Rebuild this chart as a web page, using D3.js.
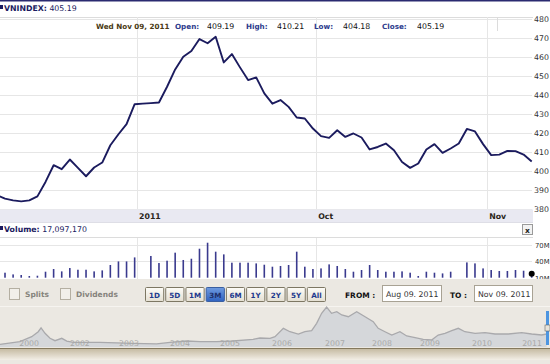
<!DOCTYPE html>
<html><head><meta charset="utf-8">
<script src="https://cdn.jsdelivr.net/npm/d3@7"></script>
<style>body{margin:0;background:#fff;overflow:hidden}svg{display:block}</style>
</head><body><svg id="c" width="550" height="364"></svg>
<script>
// ---- data ----
const symbol = "VNINDEX";
const lastClose = "405.19";
const infoDate = "Wed Nov 09, 2011";
const infoLabels = ["Open:", "High:", "Low:", "Close:"];
const infoValues = ["409.19", "410.21", "404.18", "405.19"];
const volumeTitle = "17,097,170";
// daily closes, index 0..66 (first point partly outside the plot)
const priceValues = [387.4, 385.6, 384.7, 384.2, 384.7, 386.8, 394.4, 403.2, 401.1, 406.2,
  401.8, 397.4, 402.0, 404.6, 413.7, 419.5, 424.8, 435.3, 435.6, 435.9,
  436.2, 444.5, 453.6, 460.3, 463.3, 469.6, 467.4, 470.8, 457.3, 461.7,
  454.7, 448.0, 449.4, 441.0, 435.6, 437.5, 433.9, 428.3, 427.8, 422.5,
  418.5, 417.6, 421.6, 418.1, 419.9, 417.8, 411.5, 412.8, 414.6, 411.1,
  404.9, 401.8, 404.1, 411.5, 414.3, 409.7, 412.0, 414.6, 422.3, 421.0,
  414.3, 408.5, 408.8, 410.7, 410.6, 408.8, 405.19];
// daily volume in millions, same index (first day has no visible bar)
const volumeValues = [null, 19.1, 16.0, 14.9, 13.1, 13.6, 20.9, 25.8, 21.5, 27.6, 24.5,
  24.5, 21.5, 23.3, 33.1, 39.6, 39.6, 46.9, 9, 49.5, 36.7,
  40.9, 55.5, 42.2, 44.5, 62.7, 73.6, 57.3, 52.4, 37.3, 37.3,
  37.3, 36.0, 33.6, 30.0,
  31.3, 33.1, 57.3, 30.0, 25.8, 26.9, 34.2, 31.3, 25.8, 20.9,
  24.0, 33.1, 24.0, 20.9, 20.9, 21.5, 19.1, 13.1, 20.9, 19.1,
  17.8, 20.9, 9, 37.8, 36.0, 26.9, 24.0, 22.2, 22.2, 24.0, 22.7, 17.1];
const xTickLabels = ["2011", "Oct", "Nov"];
const xTickIndex = [17.3, 39.4, 60.5];
const priceTicks = [380, 390, 400, 410, 420, 430, 440, 450, 460, 470, 480];
const volumeTicks = [10, 40, 70];
const volumeTickLabels = ["10M", "40M", "70M"];
const rangeButtons = ["1D", "5D", "1M", "3M", "6M", "1Y", "2Y", "5Y", "All"];
const activeButton = "3M";
const fromDate = "Aug 09. 2011";
const toDate = "Nov 09. 2011";
// navigator: session index and index level
const navSessions = [0, 100, 159, 192, 206, 226, 251, 276, 310, 335, 368, 502, 667, 786, 853, 937, 1004, 1087, 1169, 1270, 1305, 1355, 1380, 1422, 1455, 1497, 1530, 1564, 1589, 1614, 1639, 1664, 1690, 1715, 1748, 1790, 1832, 1873, 1898, 1932, 1966, 2007, 2041, 2083, 2124, 2166, 2199, 2233, 2267, 2300, 2333, 2384, 2434, 2484, 2551, 2618, 2668, 2718, 2743];
const navValues = [79, 155, 301, 447, 560, 400, 254, 184, 254, 175, 137, 137, 108, 90, 137, 175, 155, 155, 175, 225, 263, 254, 301, 547, 447, 380, 447, 477, 693, 985, 1170, 985, 1032, 936, 886, 1032, 886, 740, 547, 447, 351, 447, 322, 272, 225, 205, 351, 401, 477, 547, 447, 401, 418, 380, 380, 418, 380, 351, 380];
const navYearLabels = ["2000", "2002", "2003", "2004", "2005", "2006", "2007", "2008", "2009", "2010", "2011"];
const navYearSessions = [146, 401, 647, 903, 1154, 1415, 1681, 1917, 2158, 2419, 2670];

// ---- drawing ----
const svg = d3.select("#c");
const F = "'DejaVu Sans', Verdana, sans-serif";
const plotL = 0, plotR = 532, plotT = 17, plotB = 209.3;

const x = d3.scaleLinear().domain([0, priceValues.length - 1]).range([-3.1, 531.7]);
const yP = d3.scaleLinear().domain([380, 480]).range([209.3, 19.3]);
const yV = d3.scaleLinear().domain([10, 70]).range([277.7, 244.7]);

const defs = svg.append("defs");
defs.append("clipPath").attr("id", "cp").append("rect")
  .attr("x", plotL).attr("y", plotT).attr("width", plotR - plotL + 2).attr("height", plotB - plotT);
defs.append("clipPath").attr("id", "cv").append("rect")
  .attr("x", 0).attr("y", 238).attr("width", 540).attr("height", 41);
const g1 = defs.append("linearGradient").attr("id", "btn").attr("x1", 0).attr("x2", 0).attr("y1", 0).attr("y2", 1);
g1.append("stop").attr("offset", 0).attr("stop-color", "#fdfcf8");
g1.append("stop").attr("offset", 1).attr("stop-color", "#e4dfd2");
const g2 = defs.append("linearGradient").attr("id", "btnA").attr("x1", 0).attr("x2", 0).attr("y1", 0).attr("y2", 1);
g2.append("stop").attr("offset", 0).attr("stop-color", "#6f9be0");
g2.append("stop").attr("offset", 1).attr("stop-color", "#2f62c0");
const g3 = defs.append("linearGradient").attr("id", "scr").attr("x1", 0).attr("x2", 0).attr("y1", 0).attr("y2", 1);
g3.append("stop").attr("offset", 0).attr("stop-color", "#c4b9a0");
g3.append("stop").attr("offset", 1).attr("stop-color", "#f2eee6");

// top border
svg.append("rect").attr("x", 0).attr("y", 0).attr("width", 550).attr("height", 1.5).attr("fill", "#2a2a70");
// title
svg.append("rect").attr("x", 0).attr("y", 5).attr("width", 3).attr("height", 4).attr("fill", "#1a1a60");
const t1 = svg.append("text").attr("x", 4).attr("y", 10.5).attr("font-family", F).attr("font-size", 7.8).attr("fill", "#1a1a60");
t1.append("tspan").attr("font-weight", "bold").text(symbol + ":");
t1.append("tspan").text(" " + lastClose);

svg.append("line").attr("x1", 0).attr("x2", 533).attr("y1", 17.5).attr("y2", 17.5).attr("stroke", "#dcdcdc");

// gridlines
svg.append("g").selectAll("line").data(priceTicks).join("line")
  .attr("x1", plotL).attr("x2", plotR).attr("y1", d => Math.round(yP(d)) + 0.5).attr("y2", d => Math.round(yP(d)) + 0.5)
  .attr("stroke", "#e6e6e6");
svg.append("g").selectAll("line").data(xTickIndex).join("line")
  .attr("x1", d => Math.round(x(d)) + 0.5).attr("x2", d => Math.round(x(d)) + 0.5)
  .attr("y1", plotT).attr("y2", plotB).attr("stroke", "#e6e6e6");

// info row
svg.append("line").attr("x1", 497.5).attr("x2", 497.5).attr("y1", 17).attr("y2", 31).attr("stroke", "#dcdcdc");
svg.append("text").attr("x", 96).attr("y", 29).attr("font-family", F).attr("font-size", 7.2)
  .attr("font-weight", "bold").attr("fill", "#4a3a14").text(infoDate);
const labX = [175, 246, 314, 382], valX = [207, 277, 343, 417];
infoLabels.forEach((l, i) => {
  svg.append("text").attr("x", labX[i]).attr("y", 29).attr("font-family", F).attr("font-size", 7.2)
    .attr("font-weight", "bold").attr("fill", "#2c3a8c").text(l);
  svg.append("text").attr("x", valX[i]).attr("y", 29).attr("font-family", F).attr("font-size", 7.8)
    .attr("fill", "#111").text(infoValues[i]);
});

// price axis labels
svg.append("g").selectAll("text").data(priceTicks).join("text")
  .attr("x", 534).attr("y", d => yP(d) + 3).attr("font-family", F).attr("font-size", 7.8)
  .attr("fill", "#333").text(d => d);

// price line
svg.append("path").datum(priceValues).attr("clip-path", "url(#cp)")
  .attr("d", d3.line().x((d, i) => x(i)).y(d => yP(d)))
  .attr("fill", "none").attr("stroke", "#1b1b5e").attr("stroke-width", 1.9).attr("stroke-linejoin", "round");

// x axis band
svg.append("rect").attr("x", 0).attr("y", 209.5).attr("width", 533).attr("height", 12.5).attr("fill", "#e9e9f2");
svg.append("line").attr("x1", 0).attr("x2", 533).attr("y1", 222.5).attr("y2", 222.5).attr("stroke", "#dedee6");
svg.append("g").selectAll("text").data(xTickIndex).join("text")
  .attr("x", d => x(d) + 2).attr("y", 219).attr("font-family", F).attr("font-size", 7.8)
  .attr("font-weight", "bold").attr("fill", "#2a2418").text((d, i) => xTickLabels[i]);

// volume header
svg.append("rect").attr("x", 0).attr("y", 226).attr("width", 3).attr("height", 4).attr("fill", "#1a1a60");
const t2 = svg.append("text").attr("x", 4).attr("y", 231.5).attr("font-family", F).attr("font-size", 7.8).attr("fill", "#1a1a60");
t2.append("tspan").attr("font-weight", "bold").text("Volume:");
t2.append("tspan").text(" " + volumeTitle);
// close button
svg.append("rect").attr("x", 522.5).attr("y", 224.5).attr("width", 10).attr("height", 10)
  .attr("fill", "#f2f2f2").attr("stroke", "#9a9a9a");
svg.append("text").attr("x", 527.5).attr("y", 232.5).attr("text-anchor", "middle").attr("font-family", F)
  .attr("font-size", 7.5).attr("font-weight", "bold").attr("fill", "#222").text("x");

// volume panel
svg.append("line").attr("x1", 0).attr("x2", 533).attr("y1", 237.5).attr("y2", 237.5).attr("stroke", "#dcdcdc");
svg.append("g").selectAll("line").data(volumeTicks.slice(1)).join("line")
  .attr("x1", 0).attr("x2", 532).attr("y1", d => Math.round(yV(d)) + 0.5).attr("y2", d => Math.round(yV(d)) + 0.5)
  .attr("stroke", "#e6e6e6");
svg.append("g").selectAll("line").data(xTickIndex).join("line")
  .attr("x1", d => Math.round(x(d)) + 0.5).attr("x2", d => Math.round(x(d)) + 0.5)
  .attr("y1", 238).attr("y2", 279).attr("stroke", "#e6e6e6");
svg.append("g").attr("clip-path", "url(#cv)").selectAll("rect")
  .data(volumeValues.map((v, i) => ({ v, i })).filter(d => d.v != null && d.v > 10))
  .join("rect")
  .attr("x", d => x(d.i) - 0.8).attr("width", 1.6)
  .attr("y", d => yV(d.v)).attr("height", d => yV(10) - yV(d.v))
  .attr("fill", "#3a3a8e");
const lastI = volumeValues.length - 1;
svg.append("circle").attr("cx", x(lastI)).attr("cy", yV(volumeValues[lastI])).attr("r", 3).attr("fill", "#000");
svg.append("g").selectAll("text").data(volumeTicks).join("text")
  .attr("x", 535).attr("y", d => yV(d) + 3).attr("font-family", F).attr("font-size", 6.8)
  .attr("fill", "#333").text((d, i) => volumeTickLabels[i]);

// control panel
svg.append("rect").attr("x", 0).attr("y", 279).attr("width", 550).attr("height", 85).attr("fill", "#ebe8e2");
[["Splits", 9, 25], ["Dividends", 60, 76]].forEach(([lab, bx, tx]) => {
  svg.append("rect").attr("x", bx + 0.5).attr("y", 288.5).attr("width", 10).attr("height", 11)
    .attr("fill", "#f1efea").attr("stroke", "#b4afa2");
  svg.append("text").attr("x", tx).attr("y", 297).attr("font-family", F).attr("font-size", 7.5)
    .attr("font-weight", "bold").attr("fill", "#85837c").text(lab);
});
const bx = d3.scaleBand().domain(rangeButtons).range([145, 325]).paddingInner(0.1);
const btn = svg.append("g").selectAll("g").data(rangeButtons).join("g");
btn.append("rect").attr("x", d => bx(d) + 0.5).attr("y", 287.5).attr("width", bx.bandwidth()).attr("height", 14)
  .attr("rx", 1).attr("fill", d => d === activeButton ? "url(#btnA)" : "url(#btn)")
  .attr("stroke", d => d === activeButton ? "#3a5fa0" : "#7d7763");
btn.append("text").attr("x", d => bx(d) + bx.bandwidth() / 2 + 0.5).attr("y", 297.5).attr("text-anchor", "middle")
  .attr("font-family", F).attr("font-size", 7.2).attr("font-weight", "bold")
  .attr("fill", d => d === activeButton ? "#20306a" : "#1d3a8e").text(d => d);

svg.append("text").attr("x", 345).attr("y", 297.5).attr("font-family", F).attr("font-size", 7.5)
  .attr("font-weight", "bold").attr("fill", "#111").text("FROM :");
svg.append("rect").attr("x", 382.5).attr("y", 285.5).attr("width", 59).attr("height", 16)
  .attr("fill", "#fff").attr("stroke", "#a8a294");
svg.append("text").attr("x", 386).attr("y", 297).attr("font-family", F).attr("font-size", 7.8)
  .attr("fill", "#333").text(fromDate);
svg.append("text").attr("x", 450).attr("y", 297.5).attr("font-family", F).attr("font-size", 7.5)
  .attr("font-weight", "bold").attr("fill", "#111").text("TO :");
svg.append("rect").attr("x", 474.5).attr("y", 285.5).attr("width", 58).attr("height", 16)
  .attr("fill", "#fff").attr("stroke", "#a8a294");
svg.append("text").attr("x", 478).attr("y", 297).attr("font-family", F).attr("font-size", 7.8)
  .attr("fill", "#333").text(toDate);
svg.append("line").attr("x1", 0).attr("x2", 550).attr("y1", 306.5).attr("y2", 306.5).attr("stroke", "#f6f4f0");

// navigator
const nx = d3.scaleLinear().domain([0, 2750]).range([0, 548]);
const ny = d3.scaleLinear().domain([0, 1170]).range([347, 307]);
const navData = navSessions.map((s, i) => [s, navValues[i]]);
svg.append("path").datum(navData)
  .attr("d", d3.area().x(d => nx(d[0])).y0(ny(0)).y1(d => ny(d[1])))
  .attr("fill", "#d5d7da");
svg.append("path").datum(navData)
  .attr("d", d3.line().x(d => nx(d[0])).y(d => ny(d[1])))
  .attr("fill", "none").attr("stroke", "#a9a9ac").attr("stroke-width", 1.3);
svg.append("g").selectAll("text").data(navYearSessions).join("text")
  .attr("x", d => nx(d)).attr("y", 346).attr("text-anchor", "middle").attr("font-family", F)
  .attr("font-size", 7.8).attr("fill", "#a9a9a9").text((d, i) => navYearLabels[i]);
svg.append("rect").attr("x", 0).attr("y", 348.5).attr("width", 550).attr("height", 11.5).attr("fill", "url(#scr)");
svg.append("line").attr("x1", 0).attr("x2", 550).attr("y1", 348.5).attr("y2", 348.5).attr("stroke", "#85795d");
svg.append("rect").attr("x", 546).attr("y", 311).attr("width", 3).attr("height", 34).attr("fill", "#4d95e0");
svg.append("rect").attr("x", 545).attr("y", 325).attr("width", 5).attr("height", 6).attr("fill", "#e8e4da").attr("stroke", "#666").attr("stroke-width", 0.6);
</script></body></html>
